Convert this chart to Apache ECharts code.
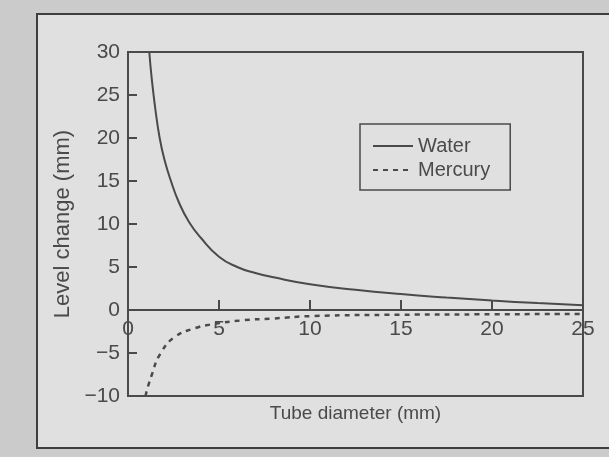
<!DOCTYPE html>
<html><head><meta charset="utf-8">
<script src="https://cdn.jsdelivr.net/npm/echarts@6/dist/echarts.min.js"></script>
<style>html,body{margin:0;padding:0;background:#cbcbcb;}#c{width:609px;height:457px;}</style>
</head><body><div id="c"></div>
<script>
const waterD = [1.17, 1.3, 1.5, 1.74, 2.0, 2.36, 2.8, 3.36, 4.0, 5.0, 6, 7, 8, 10, 12.5, 15, 17.5, 20, 22.5, 25];
const waterH = [30, 27, 23.4, 20, 17.5, 15, 12.5, 10.2, 8.4, 6.2, 5.0, 4.3, 3.8, 3.0, 2.35, 1.85, 1.45, 1.1, 0.8, 0.55];
const mercuryD = [0.96, 1.28, 1.8, 2.6, 3.7, 4.5, 6.3, 7.9, 10.2, 15, 20, 25];
const mercuryH = [-10, -7.7, -5.0, -3.1, -2.1, -1.7, -1.2, -1.0, -0.7, -0.55, -0.5, -0.45];
const xTicks = [0, 5, 10, 15, 20, 25];
const yTicks = [-10, -5, 0, 5, 10, 15, 20, 25, 30];

const ink = '#4a4a4a';
const font = 'Liberation Sans';
const chart = echarts.init(document.getElementById('c'), null, {renderer: 'canvas'});
chart.setOption({
  backgroundColor: '#cbcbcb',
  animation: false,
  graphic: [{
    type: 'rect', z: -10, silent: true,
    shape: {x: 37, y: 14, width: 640, height: 434},
    style: {fill: '#e0e0e0', stroke: '#3e3e3e', lineWidth: 2}
  }],
  grid: {left: 128, right: 26, top: 52, bottom: 61, containLabel: false, outerBoundsMode: 'none',
    show: true, borderColor: ink, borderWidth: 2, backgroundColor: 'transparent'},
  legend: {
    left: 360, top: 124, orient: 'vertical',
    borderColor: ink, borderWidth: 1.5, padding: [12, 20, 10, 12],
    itemGap: 4, itemWidth: 40, itemHeight: 16,
    itemStyle: {opacity: 0},
    textStyle: {color: ink, fontSize: 20, fontFamily: font},
    data: ['Water', 'Mercury']
  },
  xAxis: {
    type: 'value', min: 0, max: 25, interval: 5, offset: -86,
    name: 'Tube diameter (mm)', nameLocation: 'middle', nameGap: 94, nameMoveOverlap: false,
    nameTextStyle: {color: ink, fontSize: 19, fontFamily: font, verticalAlign: 'top'},
    axisLine: {onZero: false, lineStyle: {color: ink, width: 2}},
    axisTick: {inside: true, length: 10, lineStyle: {color: ink, width: 2}},
    axisLabel: {color: ink, fontSize: 21, fontFamily: font, margin: 9,
      formatter: v => xTicks.includes(v) ? String(v) : ''},
    splitLine: {show: false}
  },
  yAxis: {
    type: 'value', min: -10, max: 30, interval: 5,
    name: 'Level change (mm)', nameLocation: 'middle', nameGap: 50,
    nameTextStyle: {color: ink, fontSize: 22, fontFamily: font},
    axisLine: {show: true, lineStyle: {color: ink, width: 2}},
    axisTick: {inside: true, length: 9, lineStyle: {color: ink, width: 2}},
    axisLabel: {color: ink, fontSize: 21, fontFamily: font, margin: 8,
      formatter: v => yTicks.includes(v) ? (v < 0 ? '\u2212' + Math.abs(v) : String(v)) : ''},
    splitLine: {show: false}
  },
  series: [{
    name: 'Water', type: 'line', smooth: 0.5, symbol: 'none',
    color: ink,
    lineStyle: {color: ink, width: 2},
    data: waterD.map((d, i) => [d, waterH[i]])
  }, {
    name: 'Mercury', type: 'line', smooth: 0.5, symbol: 'none',
    color: ink,
    lineStyle: {color: ink, width: 2.5, type: [5, 5]},
    data: mercuryD.map((d, i) => [d, mercuryH[i]])
  }]
});
</script></body></html>
